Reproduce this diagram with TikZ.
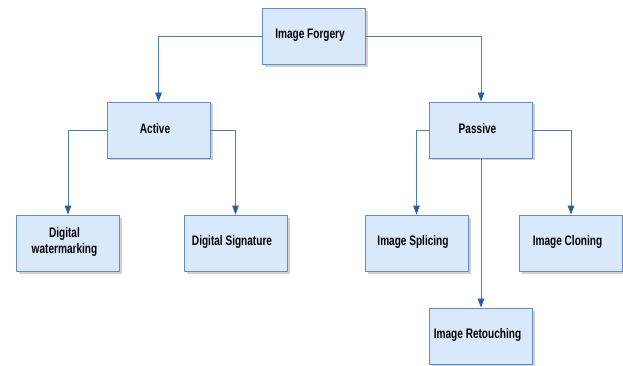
\documentclass[tikz,border=0pt]{standalone}
\usepackage{fontspec}
\setmainfont{Liberation Sans}[FakeStretch=0.73]
\usetikzlibrary{arrows.meta,shadows}
\definecolor{boxfill}{HTML}{D9E8FB}
\definecolor{boxline}{HTML}{5F8DC4}
\definecolor{linkcol}{HTML}{4F7DB8}
\definecolor{tipcol}{HTML}{2A5C9E}
\tikzset{
  box/.style={draw=boxline, fill=boxfill, line width=0.9pt, minimum width=103pt, minimum height=56pt,
    inner sep=0pt,
    drop shadow={shadow xshift=2.5pt, shadow yshift=-2.5pt, fill=black, opacity=0.18}},
  boxtext/.style={align=center, inner sep=0pt, xshift=-3.5pt, yshift=1.5pt,
    font=\bfseries\fontsize{13.8}{16}\selectfont},
  link/.style={draw=linkcol, line width=0.9pt, -{Triangle[length=9pt,width=6.5pt,fill=tipcol,color=tipcol]}}
}
\begin{document}
\begin{tikzpicture}[x=1pt,y=-1pt]
\useasboundingbox (0,0) rectangle (623,366);
\node[box, label={[boxtext]center:Image Forgery}] (if) at (313.5,36.5) {};
\node[box, label={[boxtext]center:Active}] (act) at (158.5,130) {};
\node[box, label={[boxtext]center:Passive}] (pas) at (481,130) {};
\node[box, label={[boxtext]center:Digital\\watermarking}] (dw) at (68,243) {};
\node[box, label={[boxtext]center:Digital Signature}] (ds) at (235.5,243) {};
\node[box, label={[boxtext]center:Image Splicing}] (is) at (416.5,243) {};
\node[box, label={[boxtext]center:Image Cloning}] (ic) at (571,243) {};
\node[box, label={[boxtext]center:Image Retouching}] (ir) at (481,336) {};
\draw[link] (if.west) -| (act.north);
\draw[link] (if.east) -| (pas.north);
\draw[link] (act.west) -| (dw.north);
\draw[link] (act.east) -| (ds.north);
\draw[link] (pas.west) -| (is.north);
\draw[link] (pas.east) -| (ic.north);
\draw[link] (pas.south) -- (ir.north);
\end{tikzpicture}
\end{document}
